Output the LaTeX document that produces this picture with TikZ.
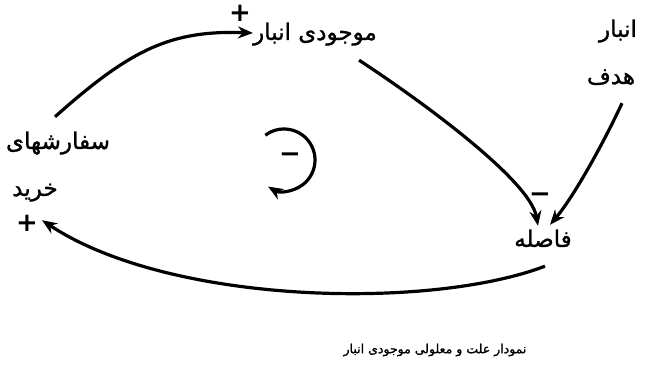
\documentclass[tikz,border=0pt]{standalone}
\usepackage{fontspec}
\usetikzlibrary{arrows.meta,calc}
\TeXXeTstate=1
\newfontfamily\arabicfont[Script=Arabic,FakeBold=1.2]{DejaVu Sans}
\newfontfamily\signfont{DejaVu Sans}
\tikzset{
  lbl/.style={font=\arabicfont\fontsize{23}{26}\selectfont, inner sep=2pt, text height=12pt, text depth=4pt},
  captionlbl/.style={font=\arabicfont\fontsize{12.5}{14}\selectfont, inner sep=2pt},
  sgn/.style={font=\signfont\bfseries\fontsize{26}{26}\selectfont, inner sep=0pt},
  arr/.style={line width=3.2pt, -{Stealth[length=15pt,width=12pt]}}
}
\begin{document}
\begin{tikzpicture}[x=1pt,y=1pt]
\useasboundingbox (0,0) rectangle (649,370);
% variable nodes
\node[lbl] (mojudi) at (315,334) {\beginR موجودی انبار\endR};
\node[lbl] (anbar) at (618,337) {\beginR انبار\endR};
\node[lbl] (hadaf) at (611,290) {\beginR هدف\endR};
\node[lbl] (sefA) at (58,225) {\beginR سفارشهای\endR};
\node[lbl] (sefB) at (35,178) {\beginR خرید\endR};
\node[lbl] (faseleh) at (543,127) {\beginR فاصله\endR};
\node[captionlbl] (caption) at (435,20) {\beginR نمودار علت و معلولی موجودی انبار\endR};
% polarity signs
\node[sgn] (p1) at (240,357) {+};
\node[sgn] (m1) at (540,172) {−};
\node[sgn] (p2) at (27,147) {+};
\node[sgn] (mloop) at (290,212) {−};
% connectors
\draw[arr] ($(sefA.north)+(-3,18)$) .. controls (130,320) and (170,340) .. ($(mojudi.west)+(2,3)$);
\draw[arr] ($(mojudi.south east)+(-20,-14)$) .. controls (420,270) and (530,190) .. ($(faseleh.north)+(-5,7)$);
\draw[arr] ($(hadaf.south)+(11,-13)$) .. controls (605,230) and (575,175) .. ($(faseleh.north)+(7,8)$);
\draw[arr] ($(faseleh.south)+(2,-13)$) .. controls (430,60) and (170,65) .. ($(sefB.south)+(7,-18)$);
% loop
\coordinate (lc) at (284,210);
\draw[arr] ($(lc)+(127:31)$) arc[start angle=127, end angle=-121, radius=31];
\end{tikzpicture}
\end{document}
